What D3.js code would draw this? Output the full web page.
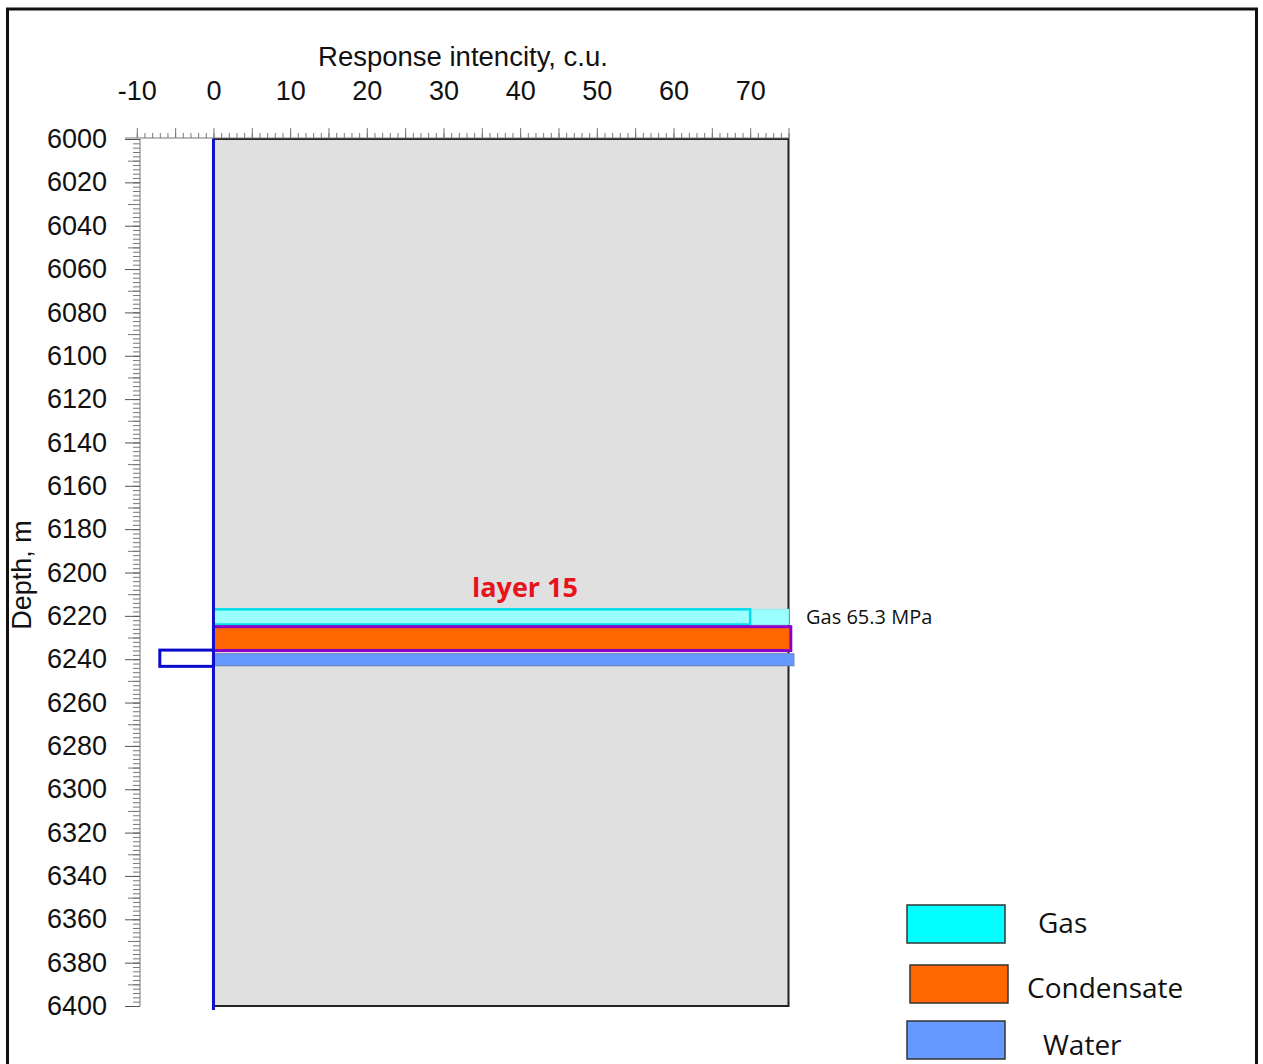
<!DOCTYPE html>
<html>
<head>
<meta charset="utf-8">
<script src="https://cdn.jsdelivr.net/npm/d3@7"></script>
<style>
  body { margin: 0; background: #fff; }
  svg { display: block; }
</style>
</head>
<body>
<svg id="chart" width="1263" height="1064"></svg>
<script>
// ---- data ----
const xTickLabels = [-10, 0, 10, 20, 30, 40, 50, 60, 70];
const depthTickLabels = [6000, 6020, 6040, 6060, 6080, 6100, 6120, 6140, 6160, 6180,
  6200, 6220, 6240, 6260, 6280, 6300, 6320, 6340, 6360, 6380, 6400];

const fluids = ["Gas", "Condensate", "Water"];
const fluidLegendColors = ["#00ffff", "#ff6600", "#6699ff"];
const layerTopDepth = [6217, 6225, 6237.5];      // m
const layerBottomDepth = [6224, 6236, 6243];     // m
const layerResponse = [70, 75.3, 75.7];          // c.u.
const gasTailResponse = [70, 75];                // gas continuation past the stroked bar
const waterNegTop = 6235.8, waterNegBottom = 6243.3, waterNegResponse = -7;
const layerName = "layer 15";
const gasNote = "Gas 65.3 MPa";

// ---- layout ----
const svg = d3.select("#chart");
const x = d3.scaleLinear().domain([-10, 75]).range([136.8, 788.5]);
const y = d3.scaleLinear().domain([6000, 6400]).range([139, 1006]);
const plainFmt = d => String(d).replace("\u2212", "-");
const axisFont = "Liberation Sans, Arial, sans-serif";

// outer frame
svg.append("rect").attr("x", 7.5).attr("y", 9).attr("width", 1249).attr("height", 1080)
  .attr("fill", "none").attr("stroke", "#111").attr("stroke-width", 3);

// plot background
svg.append("rect")
  .attr("x", x(0)).attr("y", y(6000))
  .attr("width", x(75) - x(0)).attr("height", y(6400) - y(6000))
  .attr("fill", "#e0e0e0").attr("stroke", "#222").attr("stroke-width", 2);

// top ruler
const rulerColor = "#777";
const topRuler = svg.append("g").attr("transform", `translate(0,${y(6000) - 1})`);
topRuler.append("line").attr("x1", 125).attr("x2", x(75)).attr("y1", 0).attr("y2", 0)
  .attr("stroke", rulerColor).attr("stroke-width", 1);
topRuler.call(d3.axisTop(x).tickValues(d3.range(-10, 76, 1)).tickSize(5).tickFormat(""))
  .call(g => g.select(".domain").remove())
  .call(g => g.selectAll(".tick line").attr("stroke", rulerColor));
topRuler.append("g").call(d3.axisTop(x).tickValues(d3.range(-10, 76, 5)).tickSize(10).tickFormat(""))
  .call(g => g.select(".domain").remove())
  .call(g => g.selectAll(".tick line").attr("stroke", rulerColor));

// x tick labels
svg.append("g").attr("transform", "translate(0,100)")
  .call(d3.axisTop(x).tickValues(xTickLabels).tickSize(0).tickPadding(0).tickFormat(plainFmt))
  .call(g => g.select(".domain").remove())
  .call(g => g.selectAll("text").attr("font-family", axisFont)
    .attr("font-size", 27).attr("fill", "#111"));

// x title
svg.append("text").attr("x", 463).attr("y", 66).attr("text-anchor", "middle")
  .attr("font-family", axisFont).attr("font-size", 27.5)
  .attr("fill", "#111").text("Response intencity, c.u.");

// left ruler
const leftRuler = svg.append("g").attr("transform", "translate(140,0)");
leftRuler.append("line").attr("x1", 0).attr("x2", 0).attr("y1", y(6000)).attr("y2", y(6400))
  .attr("stroke", rulerColor);
leftRuler.call(d3.axisLeft(y).tickValues(d3.range(6000, 6401, 2)).tickSize(7).tickFormat(""))
  .call(g => g.select(".domain").remove())
  .call(g => g.selectAll(".tick line").attr("stroke", rulerColor));
leftRuler.append("g").call(d3.axisLeft(y).tickValues(d3.range(6010, 6400, 20)).tickSize(12).tickFormat(""))
  .call(g => g.select(".domain").remove())
  .call(g => g.selectAll(".tick line").attr("stroke", rulerColor));
leftRuler.append("g").call(d3.axisLeft(y).tickValues(depthTickLabels).tickSize(15).tickPadding(18)
    .tickFormat(d => String(d)))
  .call(g => g.select(".domain").remove())
  .call(g => g.selectAll(".tick line").attr("stroke", "#555"))
  .call(g => g.selectAll("text").attr("font-family", axisFont)
    .attr("font-size", 27).attr("fill", "#111"));

// y title
svg.append("text").attr("transform", "translate(31,575) rotate(-90)").attr("text-anchor", "middle")
  .attr("font-family", axisFont).attr("font-size", 27)
  .attr("fill", "#111").text("Depth, m");

// ---- fluid bars ----
const bars = svg.append("g");
// gas tail (fill only)
bars.append("rect")
  .attr("x", x(gasTailResponse[0])).attr("y", y(layerTopDepth[0]))
  .attr("width", x(gasTailResponse[1]) - x(gasTailResponse[0]))
  .attr("height", y(layerBottomDepth[0]) - y(layerTopDepth[0]))
  .attr("fill", "#99ffff").attr("stroke", "#8ef0f0").attr("stroke-width", 1);

const barFill = ["#99ffff", "#ff6600", "#6699ff"];
const barStroke = ["#00dde8", "#8a00c8", "#6f86c8"];
const barStrokeW = [2.5, 3, 1.2];
fluids.forEach((f, i) => {
  bars.append("rect")
    .attr("x", x(0)).attr("y", y(layerTopDepth[i]))
    .attr("width", x(layerResponse[i]) - x(0))
    .attr("height", y(layerBottomDepth[i]) - y(layerTopDepth[i]))
    .attr("fill", barFill[i]).attr("stroke", barStroke[i]).attr("stroke-width", barStrokeW[i]);
});

// negative water response outline
bars.append("rect")
  .attr("x", x(waterNegResponse)).attr("y", y(waterNegTop))
  .attr("width", x(0) - x(waterNegResponse))
  .attr("height", y(waterNegBottom) - y(waterNegTop))
  .attr("fill", "none").attr("stroke", "#0a0acc").attr("stroke-width", 3);

// zero line
svg.append("line").attr("x1", x(0)).attr("x2", x(0)).attr("y1", y(6000)).attr("y2", y(6400) + 4)
  .attr("stroke", "#1010cc").attr("stroke-width", 3);

// annotations
svg.append("text").attr("x", 525).attr("y", 597).attr("text-anchor", "middle")
  .attr("font-family", "Open Sans, sans-serif").attr("font-weight", "bold").attr("font-size", 27)
  .attr("fill", "#e8141c").text(layerName);
svg.append("text").attr("x", 806).attr("y", 624)
  .attr("font-family", "Open Sans, sans-serif").attr("font-size", 20)
  .attr("fill", "#111").text(gasNote);

// ---- legend ----
const legendBoxes = [[907, 905], [910, 965], [907, 1021]];
const legendText = [[1038, 933], [1027, 998], [1043, 1055]];
const legend = svg.append("g");
fluids.forEach((f, i) => {
  legend.append("rect").attr("x", legendBoxes[i][0]).attr("y", legendBoxes[i][1])
    .attr("width", 98).attr("height", 38)
    .attr("fill", fluidLegendColors[i]).attr("stroke", "#333").attr("stroke-width", 1.5);
  legend.append("text").attr("x", legendText[i][0]).attr("y", legendText[i][1])
    .attr("font-family", "Open Sans, sans-serif").attr("font-size", 28)
    .attr("fill", "#111").text(f);
});
</script>
</body>
</html>
